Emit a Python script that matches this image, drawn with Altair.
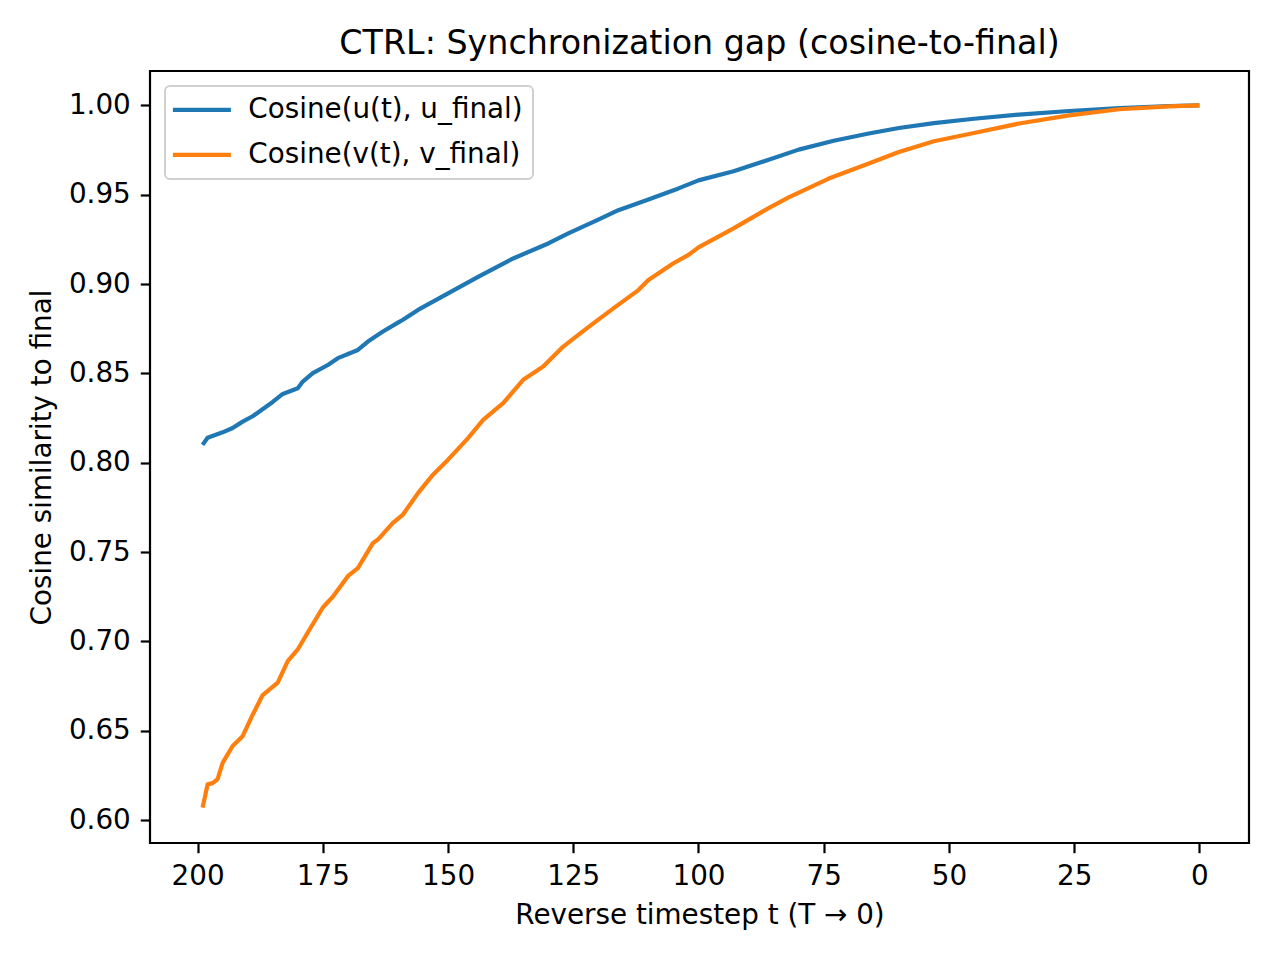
import altair as alt
import pandas as pd

# ---- data ----
series_names = ["Cosine(u(t), u_final)", "Cosine(v(t), v_final)"]
series_colors = ["#1f77b4", "#ff7f0e"]

t_u = [199, 198, 195, 193, 191, 189, 185, 183, 180, 179, 177, 174, 172, 168, 166,
       163, 160, 159, 156, 150, 144, 137, 130, 126, 120, 116, 110, 104, 100,
       93, 86, 80, 73, 66, 60, 53, 45, 36, 26, 16, 6, 0]
u_vals = [0.810, 0.814, 0.817, 0.8194, 0.823, 0.826, 0.834, 0.8385, 0.8417, 0.8454,
          0.8501, 0.8547, 0.8585, 0.8631, 0.8678, 0.8734, 0.8784, 0.880, 0.8855,
          0.8948, 0.904, 0.9143, 0.9227, 0.9283, 0.936, 0.9413, 0.9473, 0.9535,
          0.958, 0.9631, 0.9695, 0.9752, 0.9802, 0.9842, 0.9873, 0.9900, 0.9925,
          0.9948, 0.9968, 0.9985, 0.9996, 1.0]

t_v = [199, 198, 197, 196, 195, 193, 191, 189, 187, 184, 182, 180, 178, 175, 173,
       170, 168, 165, 164, 161, 159, 156, 153, 150, 146, 143, 139, 135, 131, 127,
       124, 121, 117, 112, 110, 105, 102, 100, 93, 86, 82, 74, 66, 60, 53, 45,
       36, 26, 16, 6, 0]
v_vals = [0.607, 0.620, 0.6207, 0.623, 0.632, 0.6415, 0.647, 0.659, 0.670, 0.677,
          0.689, 0.6955, 0.705, 0.719, 0.725, 0.7365, 0.741, 0.755, 0.757, 0.7663,
          0.771, 0.783, 0.7933, 0.8017, 0.8138, 0.824, 0.8333, 0.8464, 0.8538,
          0.865, 0.8715, 0.878, 0.8864, 0.8966, 0.9022, 0.9116, 0.9163, 0.9205,
          0.9311, 0.9425, 0.9485, 0.959, 0.9674, 0.9739, 0.9799, 0.9845, 0.9898,
          0.9944, 0.9978, 0.9994, 1.0]

x_ticks = [200, 175, 150, 125, 100, 75, 50, 25, 0]
y_ticks = [0.60, 0.65, 0.70, 0.75, 0.80, 0.85, 0.90, 0.95, 1.00]

df = pd.concat([
    pd.DataFrame({"t": t_u, "value": u_vals, "series": series_names[0]}),
    pd.DataFrame({"t": t_v, "value": v_vals, "series": series_names[1]}),
], ignore_index=True)

FONT = "DejaVu Sans"

chart = alt.Chart(df).mark_line(strokeWidth=4.2, strokeCap="butt", strokeJoin="round").encode(
    x=alt.X("t:Q",
            scale=alt.Scale(domain=[209.5, -9.9], nice=False, zero=False),
            axis=alt.Axis(values=x_ticks, format="d", title="Reverse timestep t (T → 0)",
                          titleBaseline="alphabetic", titleY=80, titleFontSize=27.8,
                          titleFontWeight="normal")),
    y=alt.Y("value:Q",
            scale=alt.Scale(domain=[0.5872, 1.0192], nice=False, zero=False),
            axis=alt.Axis(values=y_ticks, format=".2f", title="Cosine similarity to final",
                          titleAngle=270, titleBaseline="alphabetic", titleX=-100, titleY=386,
                          titleAlign="center", titleFontSize=27.8, titleFontWeight="normal")),
    color=alt.Color("series:N",
                    scale=alt.Scale(domain=series_names, range=series_colors),
                    legend=alt.Legend(title=None, orient="none", legendX=15, legendY=15,
                                      symbolType="M-3,0L3,0", symbolSize=374, symbolStrokeWidth=4.2,
                                      symbolOffset=13,
                                      labelFontSize=27.8, labelFont=FONT, labelColor="black",
                                      labelOffset=32.5, labelLimit=800, padding=10, rowPadding=16,
                                      fillColor="rgba(255,255,255,0.8)", strokeColor="#d0d0d0",
                                      cornerRadius=5)),
).properties(
    width=1099,
    height=772,
    title=alt.TitleParams("CTRL: Synchronization gap (cosine-to-final)", fontSize=33.3,
                          font=FONT, fontWeight="normal", color="black", anchor="middle",
                          baseline="alphabetic", offset=17, dy=33),
    autosize=alt.AutoSizeParams(type="none"),
    padding={"left": 142, "top": 63, "right": 23, "bottom": 109},
).configure_view(
    stroke="black", strokeWidth=2.2
).configure_axis(
    domain=False, grid=False, tickColor="black", tickWidth=2.2, tickSize=9.7,
    labelFont=FONT, labelFontSize=27.8, labelColor="black", labelPadding=10,
    titleFont=FONT, titleColor="black"
).configure_legend(
    strokeWidth=2
)

chart.save("out.html", embed_options={"renderer": "svg", "actions": False})
